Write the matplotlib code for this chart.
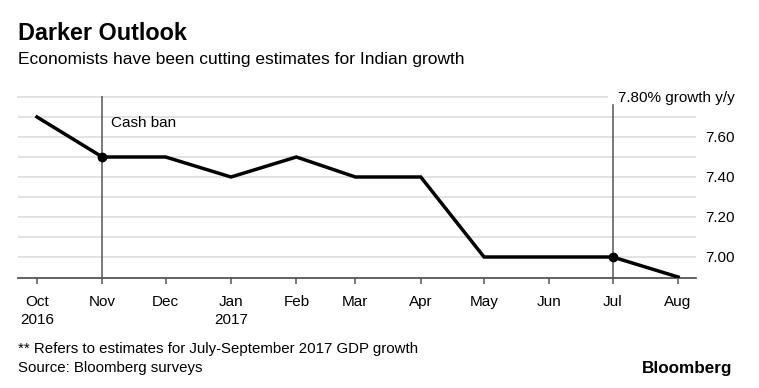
import matplotlib
matplotlib.use("Agg")
import matplotlib.pyplot as plt
import pandas as pd

plt.rcParams['font.family'] = ['Liberation Sans', 'DejaVu Sans']

# survey month and consensus estimate (% y/y)
months = ['2016-10-01', '2016-11-01', '2016-12-01', '2017-01-01', '2017-02-01',
          '2017-03-01', '2017-04-01', '2017-05-01', '2017-06-01', '2017-07-01',
          '2017-08-01']
estimates = [7.7, 7.5, 7.5, 7.4, 7.5, 7.4, 7.4, 7.0, 7.0, 7.0, 6.9]
month_labels = ['Oct\n2016', 'Nov', 'Dec', 'Jan\n2017', 'Feb', 'Mar', 'Apr',
                'May', 'Jun', 'Jul', 'Aug']
y_ticks = [7.0, 7.2, 7.4, 7.6]
grid_levels = [7.0, 7.1, 7.2, 7.3, 7.4, 7.5, 7.6, 7.7]
marked = ['2016-11-01', '2017-07-01']   # cash ban, latest survey

dates = pd.to_datetime(months)
mark_dates = pd.to_datetime(marked)
mark_vals = [estimates[months.index(m)] for m in marked]

W, H = 759, 388
fig = plt.figure(figsize=(W / 100, H / 100), dpi=100)
ax = fig.add_axes([18 / W, (H - 278) / H, (696 - 18) / W, (278 - 96) / H])

ax.set_xlim(pd.Timestamp('2016-09-22'), pd.Timestamp('2017-08-09 12:00'))
ax.set_ylim(6.895, 7.805)

for g in grid_levels:
    ax.axhline(g, color='#e2e2e2', lw=1.4, zorder=0)
ax.axhline(7.8, xmax=(607 - 18) / (696 - 18), color='#e2e2e2', lw=1.4, zorder=0, clip_on=False)

# vertical markers
ax.axvline(mark_dates[0], ymax=1.0, color='#555555', lw=1.1, zorder=1)
ax.axvline(mark_dates[1], ymax=(278 - 105) / (278 - 96), color='#555555', lw=1.1, zorder=1)

ax.plot(dates, estimates, color='black', lw=2.5, zorder=3, solid_joinstyle='miter')
ax.plot(mark_dates, mark_vals, 'o', color='black', ms=6, zorder=4)

ax.text(mark_dates[0] + pd.Timedelta(days=4), 7.67, 'Cash ban', fontsize=11,
        va='center', ha='left')

for s in ['top', 'left', 'right']:
    ax.spines[s].set_visible(False)
ax.spines['bottom'].set_color('#555555')
ax.spines['bottom'].set_linewidth(1.3)

ax.set_xticks(dates)
ax.set_xticklabels(month_labels, fontsize=11, linespacing=1.35)
ax.tick_params(axis='x', length=4, width=1.1, color='#555555', pad=8, direction='out')

ax.yaxis.tick_right()
ax.set_yticks(y_ticks)
ax.set_yticklabels(['%.2f' % v for v in y_ticks], fontsize=11)
ax.tick_params(axis='y', length=0, pad=7)

fig.text(735 / W, 1 - 98 / H, '7.80% growth y/y', fontsize=11, ha='right', va='center')

fig.text(18 / W, 1 - 40 / H, 'Darker Outlook', fontsize=16.8, fontweight='bold',
         ha='left', va='baseline')
fig.text(18 / W, 1 - 64 / H, 'Economists have been cutting estimates for Indian growth',
         fontsize=12.5, ha='left', va='baseline')
fig.text(18 / W, 1 - 349 / H, '** Refers to estimates for July-September 2017 GDP growth',
         fontsize=10.8, ha='left', va='center')
fig.text(18 / W, 1 - 368 / H, 'Source: Bloomberg surveys', fontsize=10.8, ha='left', va='center')
fig.text(732 / W, 1 - 369 / H, 'Bloomberg', fontsize=12.3, fontweight='bold',
         ha='right', va='center')

fig.savefig('out.png', dpi=100)
